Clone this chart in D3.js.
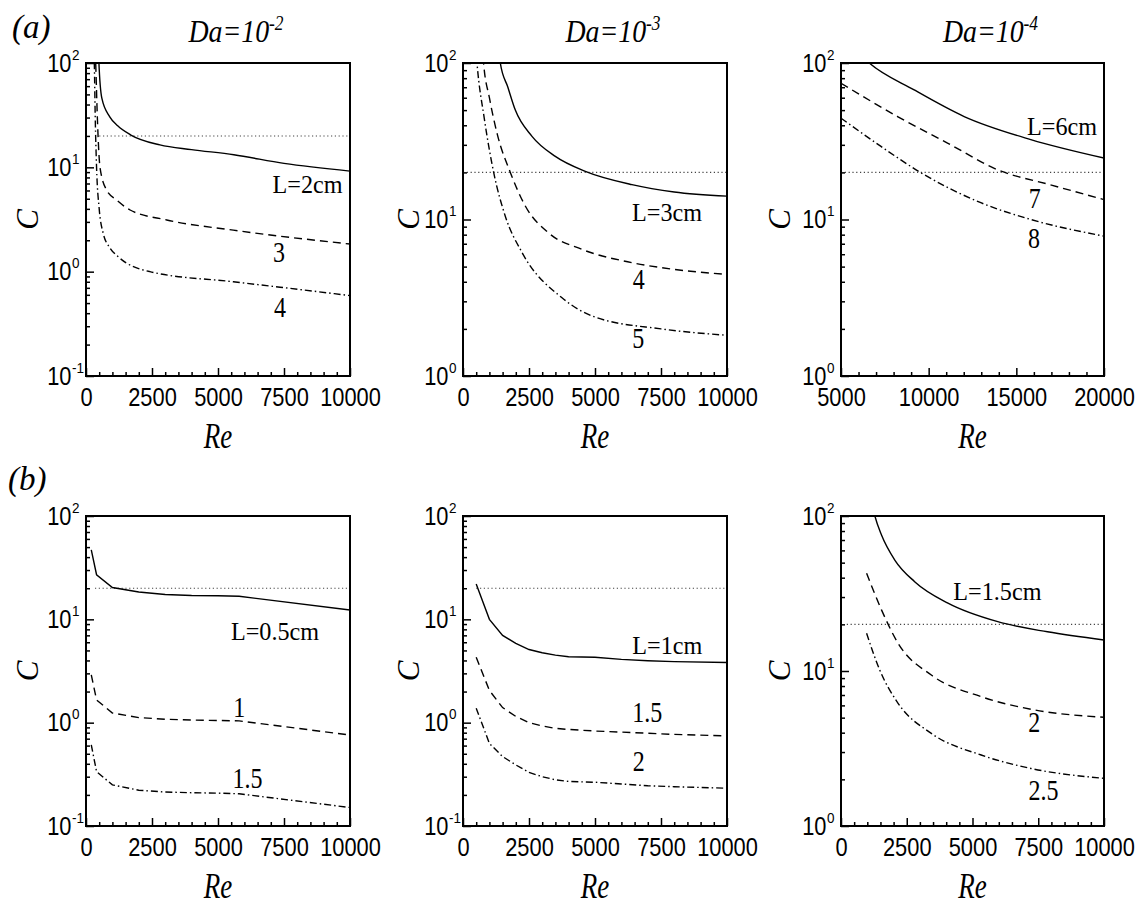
<!DOCTYPE html>
<html>
<head>
<meta charset="utf-8">
<script src="https://cdn.jsdelivr.net/npm/d3@7"></script>
<style>
  body { margin: 0; background: #fff; }
  svg { display: block; }
</style>
</head>
<body>
<div id="chart"></div>
<script>
// digitized curves, [Re, C] pairs
// (a) Da = 1e-2
const a1Solid = [[470,140],[490,100],[600,46],[900,30.5],[1200,25],[1700,20.4],[2800,16.4],[4000,14.8],[5600,13.2],[7500,10.9],[10000,9.2]];
const a1Dash = [[350,130],[367,100],[430,30],[530,10],[780,6.05],[1160,4.86],[1670,3.9],[3060,3.13],[5580,2.5],[10000,1.84]];
const a1DashDot = [[300,140],[315,100],[350,30],[400,10],[500,4],[650,2.34],[900,1.7],[1220,1.39],[2420,1.0],[5580,0.8],[7350,0.71],[10000,0.59]];
// (a) Da = 1e-3
const a2Solid = [[1380,110],[1413,100],[1700,70],[1982,50],[2614,34],[3497,25.3],[4633,20.3],[6400,16.7],[8000,15],[10000,14.1]];
const a2Dash = [[760,110],[780,100],[1000,60],[1300,35],[1792,20],[2360,12.2],[3245,8.2],[4500,6.45],[6400,5.3],[8000,4.8],[10000,4.46]];
const a2DashDot = [[510,110],[530,100],[800,45],[1162,20],[1602,10.5],[2235,6.16],[3750,3.16],[5000,2.38],[7500,2.0],[10000,1.82]];
// (a) Da = 1e-4
const a3Solid = [[6400,105],[6612,100],[9175,67.3],[12025,45.5],[15825,32.4],[20000,24.7]];
const a3Dash = [[5000,74.2],[8225,45.5],[11075,30.8],[13925,20.8],[17000,16.6],[20000,13.4]];
const a3DashDot = [[5000,44.4],[7280,29.3],[9560,19.9],[12975,12.8],[15825,10],[20000,7.83]];
// (b) Da = 1e-2
const b1Solid = [[200,47],[400,27],[1000,20.3],[2000,18.4],[3000,17.4],[4000,17.0],[5000,16.9],[5800,16.7],[10000,12.3]];
const b1Dash = [[200,2.9],[400,1.66],[1000,1.24],[2000,1.12],[3000,1.08],[4000,1.06],[5000,1.05],[5800,1.04],[10000,0.76]];
const b1DashDot = [[200,0.61],[400,0.336],[1000,0.25],[2000,0.222],[3000,0.213],[4000,0.21],[5000,0.208],[5800,0.205],[10000,0.151]];
// (b) Da = 1e-3
const b2Solid = [[500,22],[1000,10],[1500,7.0],[2000,5.85],[2500,5.1],[3000,4.75],[3500,4.5],[4000,4.35],[5000,4.3],[6000,4.1],[7000,3.98],[8000,3.9],[10000,3.82]];
const b2Dash = [[500,4.3],[1000,2.05],[1500,1.4],[2000,1.15],[2500,1.0],[3000,0.93],[3500,0.88],[4000,0.86],[5000,0.83],[6000,0.81],[7000,0.79],[8000,0.77],[10000,0.745]];
const b2DashDot = [[500,1.38],[1000,0.63],[1500,0.47],[2000,0.39],[2500,0.33],[3000,0.3],[3500,0.28],[4000,0.27],[5000,0.265],[6000,0.255],[7000,0.245],[8000,0.24],[10000,0.232]];
// (b) Da = 1e-4
const b3Solid = [[1200,115],[1288,100],[1540,75.4],[2045,52],[2800,37.7],[4066,27.4],[5960,20.8],[7850,17.9],[10000,15.85]];
const b3Dash = [[973,42.7],[1540,24.8],[2170,15.1],[3434,9.42],[5330,6.83],[7225,5.66],[10000,5.03]];
const b3DashDot = [[973,17.5],[1477,10.1],[2170,6.19],[3434,3.96],[5330,2.87],[7225,2.35],[10000,2.03]];

// curve labels: [text, Re, C]
const a1Labels = [["L=2cm",8390,5.67],["3",7310,1.24],["4",7350,0.37]];
const a2Labels = [["L=3cm",7727,9.75],["4",6655,3.58],["5",6640,1.52]];
const a3Labels = [["L=6cm",17610,34.8],["7",16054,11.87],["8",16014,6.6]];
const b1Labels = [["L=0.5cm",7159,6.32],["1",5807,1.146],["1.5",6117,0.233]];
const b2Labels = [["L=1cm",7739,4.63],["1.5",6981,1.025],["2",6655,0.337]];
const b3Labels = [["L=1.5cm",5947,28.7],["2",7348,4.06],["2.5",7701,1.47]];

const daExponents = ["-2", "-3", "-4"];
const rowTags = ["(a)", "(b)"];
const reTicksA = [0, 2500, 5000, 7500, 10000];
const reTicksB = [5000, 10000, 15000, 20000];
const refC = 20;               // dotted threshold line
const refStart = [500, 0, 5000, 340, 500, 220];

// ---------- layout ----------
const W = 1146, H = 906;
const cols = [[86, 350], [463, 727], [841, 1104]];
const rows = [[63, 376], [516, 826]];
const cLabelOff = [48, 44, 51];
const sans = "'Liberation Sans', Arial, sans-serif";
const serif = "'Liberation Serif', 'Times New Roman', serif";

const panels = [
  { c: 0, r: 0, xd: [0, 10000], yd: [0.1, 100], curves: [a1Solid, a1Dash, a1DashDot], labels: a1Labels, ticks: reTicksA, minor: 500, smooth: true },
  { c: 1, r: 0, xd: [0, 10000], yd: [1, 100], curves: [a2Solid, a2Dash, a2DashDot], labels: a2Labels, ticks: reTicksA, minor: 500, smooth: true },
  { c: 2, r: 0, xd: [5000, 20000], yd: [1, 100], curves: [a3Solid, a3Dash, a3DashDot], labels: a3Labels, ticks: reTicksB, minor: 1000, smooth: true },
  { c: 0, r: 1, xd: [0, 10000], yd: [0.1, 100], curves: [b1Solid, b1Dash, b1DashDot], labels: b1Labels, ticks: reTicksA, minor: 500, smooth: false },
  { c: 1, r: 1, xd: [0, 10000], yd: [0.1, 100], curves: [b2Solid, b2Dash, b2DashDot], labels: b2Labels, ticks: reTicksA, minor: 500, smooth: false },
  { c: 2, r: 1, xd: [0, 10000], yd: [1, 100], curves: [b3Solid, b3Dash, b3DashDot], labels: b3Labels, ticks: reTicksA, minor: 500, smooth: true }
];

const dashes = [null, "8,5", "7,3,1.5,3"];

const svg = d3.select("#chart").append("svg")
  .attr("width", W).attr("height", H)
  .attr("viewBox", [0, 0, W, H]);

// text with horizontal squeeze around its anchor
function stext(g, x, y, str, o) {
  return g.append("text")
    .attr("transform", `translate(${x},${y}) scale(${o.sx || 1},1)`)
    .attr("text-anchor", o.anchor || "middle")
    .attr("font-family", o.family || serif)
    .attr("font-size", o.size)
    .attr("font-style", o.italic ? "italic" : "normal")
    .text(str);
}

panels.forEach((p, i) => {
  const [x0, x1] = cols[p.c];
  const [y0, y1] = rows[p.r];
  const x = d3.scaleLinear().domain(p.xd).range([x0, x1]);
  const y = d3.scaleLog().domain(p.yd).range([y1, y0]);
  const g = svg.append("g");

  g.append("clipPath").attr("id", "clip" + i)
    .append("rect").attr("x", x0).attr("y", y0).attr("width", x1 - x0).attr("height", y1 - y0);

  // x axis (inward ticks)
  const minorX = d3.range(p.xd[0], p.xd[1] + 1, p.minor).filter(v => !p.ticks.includes(v));
  const gxm = g.append("g").attr("transform", `translate(0,${y1})`)
    .call(d3.axisBottom(x).tickValues(minorX).tickSize(-4).tickFormat(""));
  const gx = g.append("g").attr("transform", `translate(0,${y1})`)
    .call(d3.axisBottom(x).tickValues(p.ticks).tickSize(-8).tickPadding(12).tickFormat(d => d));
  gx.attr("font-size", 26).attr("font-family", sans);
  gx.selectAll("text").attr("fill", "#000").attr("transform", "scale(0.84,1)");

  // y axis (log, inward ticks)
  const lo = Math.round(Math.log10(p.yd[0])), hi = Math.round(Math.log10(p.yd[1]));
  const majorY = d3.range(lo, hi + 1).map(k => Math.pow(10, k));
  const minorY = [];
  d3.range(lo, hi).forEach(k => { for (let m = 2; m <= 9; m++) minorY.push(m * Math.pow(10, k)); });
  const gym = g.append("g").attr("transform", `translate(${x0},0)`)
    .call(d3.axisLeft(y).tickValues(minorY).tickSize(-4).tickFormat(""));
  const gy = g.append("g").attr("transform", `translate(${x0},0)`)
    .call(d3.axisLeft(y).tickValues(majorY).tickSize(-8).tickFormat(""));
  [gxm, gx, gym, gy].forEach(a => {
    a.select(".domain").remove();
    a.selectAll("line").attr("stroke", "#000").attr("stroke-width", 1.5);
  });

  majorY.forEach(v => {
    const ty = y(v);
    stext(g, x0 - 14.5, ty + 8.5, "10", { size: 26, sx: 0.84, family: sans, anchor: "end" });
    stext(g, x0 - 14, ty - 3.5, String(Math.round(Math.log10(v))), { size: 15, sx: 0.9, family: sans, anchor: "start" });
  });

  // threshold line
  g.append("line")
    .attr("x1", x(Math.max(refStart[i], p.xd[0]))).attr("x2", x1)
    .attr("y1", y(refC)).attr("y2", y(refC))
    .attr("stroke", "#444").attr("stroke-width", 1.1).attr("stroke-dasharray", "1.2,2.6");

  // curves
  const line = d3.line().x(d => x(d[0])).y(d => y(d[1]))
    .curve(p.smooth ? d3.curveMonotoneX : d3.curveLinear);
  g.append("g").attr("clip-path", `url(#clip${i})`)
    .selectAll("path").data(p.curves).join("path")
    .attr("d", line)
    .attr("fill", "none").attr("stroke", "#000").attr("stroke-width", 1.4)
    .attr("stroke-dasharray", (d, j) => dashes[j]);

  // frame
  g.append("rect").attr("x", x0).attr("y", y0).attr("width", x1 - x0).attr("height", y1 - y0)
    .attr("fill", "none").attr("stroke", "#000").attr("stroke-width", 2);

  // curve labels
  p.labels.forEach(([t, re, c]) => {
    const isL = t.startsWith("L=");
    stext(g, x(re), y(c), t, { size: isL ? 26 : 30, sx: isL ? 0.93 : 0.8 });
  });

  // axis titles
  stext(g, (x0 + x1) / 2, y1 + 72, "Re", { size: 36, sx: 0.75, italic: true });
  stext(g, 0, 0, "C", { size: 31, italic: true })
    .attr("transform", `translate(${x0 - cLabelOff[p.c]},${(y0 + y1) / 2}) rotate(-90)`);

  // column titles on top row
  if (p.r === 0) {
    const t = stext(g, (x0 + x1) / 2 + 18, 42, "Da=10", { size: 32, sx: 0.87, italic: true });
    t.append("tspan").attr("dy", -12).attr("font-size", 20).text(daExponents[p.c]);
  }
});

// row tags
stext(svg, 12, 38, rowTags[0], { size: 33, italic: true, anchor: "start" });
stext(svg, 8, 490, rowTags[1], { size: 33, italic: true, anchor: "start" });
</script>
</body>
</html>
